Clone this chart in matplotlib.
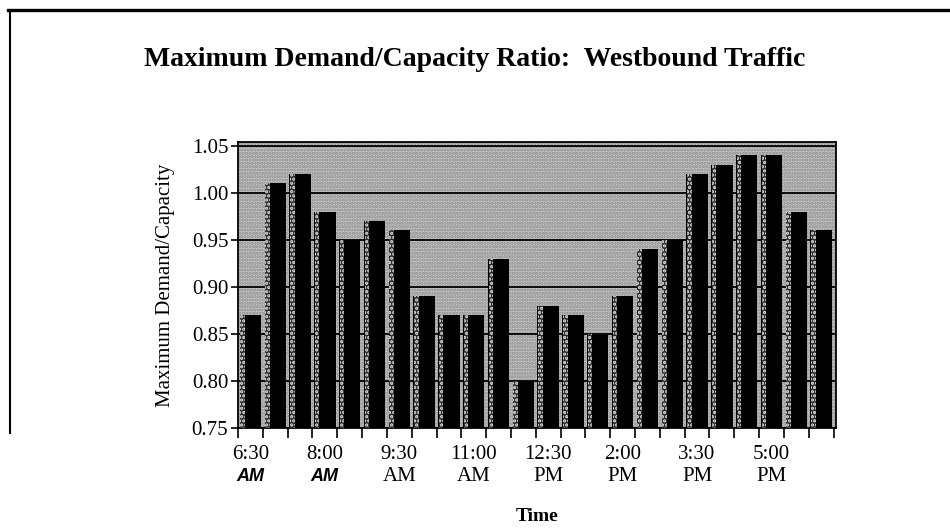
import matplotlib
matplotlib.use("Agg")
import numpy as np
import matplotlib.pyplot as plt
from matplotlib.lines import Line2D
from matplotlib.patches import Rectangle

plt.rcParams['font.family'] = ['Liberation Serif', 'DejaVu Serif']
plt.rcParams['hatch.linewidth'] = 1.6

ratio = [0.87, 1.01, 1.02, 0.98, 0.95, 0.97, 0.96, 0.89, 0.87, 0.87, 0.93, 0.80,
         0.88, 0.87, 0.85, 0.89, 0.94, 0.95, 1.02, 1.03, 1.04, 1.04, 0.98, 0.96]
label_idx = [0, 3, 6, 9, 12, 15, 18, 21]
time_labels = ['6:30', '8:00', '9:30', '11:00', '12:30', '2:00', '3:30', '5:00']
ampm = ['AM', 'AM', 'AM', 'AM', 'PM', 'PM', 'PM', 'PM']
y_ticks = [0.75, 0.80, 0.85, 0.90, 0.95, 1.00, 1.05]

W, H = 950, 531
fig = plt.figure(figsize=(W / 100, H / 100), dpi=100)
ax = fig.add_axes([238 / W, 1 - 428 / H, 598 / W, 286 / H])

x = np.arange(len(ratio))
ax.set_xlim(-0.5, len(ratio) - 0.4)
ax.set_ylim(0.75, 1.054)

# halftone-like wall
ax.set_facecolor('#c8c8c8')
ax.add_patch(Rectangle((0, 0), 1, 1, transform=ax.transAxes, fill=False,
                       hatch='.....', edgecolor='#8a8a8a', lw=0, zorder=0))

ax.set_yticks(y_ticks)
ax.set_yticklabels([f'{v:.2f}' for v in y_ticks])
ax.yaxis.grid(True, color='black', lw=1.3, zorder=1)
ax.set_axisbelow(True)

bottom = 0.75
heights = np.array(ratio) - bottom
ax.bar(x, heights, bottom=bottom, width=0.86, color='black', zorder=3)
# lighter dotted side face of each bar
ax.bar(x - 0.43 + 0.12, heights, bottom=bottom, width=0.18, color='#2a2a2a',
       hatch='....', edgecolor='#e8e8e8', lw=0, zorder=4)

for s in ax.spines.values():
    s.set_color('black')
    s.set_linewidth(1.3)

ax.tick_params(axis='y', direction='out', length=5, width=1.2, labelsize=15, pad=2)
ax.set_xticks(label_idx)
ax.set_xticklabels(time_labels)
ax.set_xticks(np.arange(-0.5, len(ratio)), minor=True)
ax.tick_params(axis='x', which='major', length=0, labelsize=15, pad=12)
ax.tick_params(axis='x', which='minor', direction='out', length=7, width=1.2)

tr = ax.get_xaxis_transform()
for k, (i, s) in enumerate(zip(label_idx, ampm)):
    if k < 2:
        ax.text(i, -0.17, s, transform=tr, ha='center', va='center', fontsize=13,
                family=['Liberation Sans', 'DejaVu Sans'], fontweight='bold', style='italic')
    else:
        ax.text(i, -0.17, s, transform=tr, ha='center', va='center', fontsize=15)

ax.set_ylabel('Maximum Demand/Capacity', fontsize=15, labelpad=12)
ax.set_xlabel('Time', fontsize=14, fontweight='bold')
ax.xaxis.set_label_coords(0.5, -0.28)

fig.text(0.5, 1 - 60 / H, 'Maximum Demand/Capacity Ratio:  Westbound Traffic',
         ha='center', va='center', fontsize=20, fontweight='bold')

# page frame
fig.add_artist(Line2D([8 / W, 1], [1 - 10 / H, 1 - 10 / H], color='black', lw=2.4))
fig.add_artist(Line2D([10 / W, 10 / W], [1 - 10 / H, 1 - 433 / H], color='black', lw=1.5))

fig.savefig('out.png', dpi=100)
